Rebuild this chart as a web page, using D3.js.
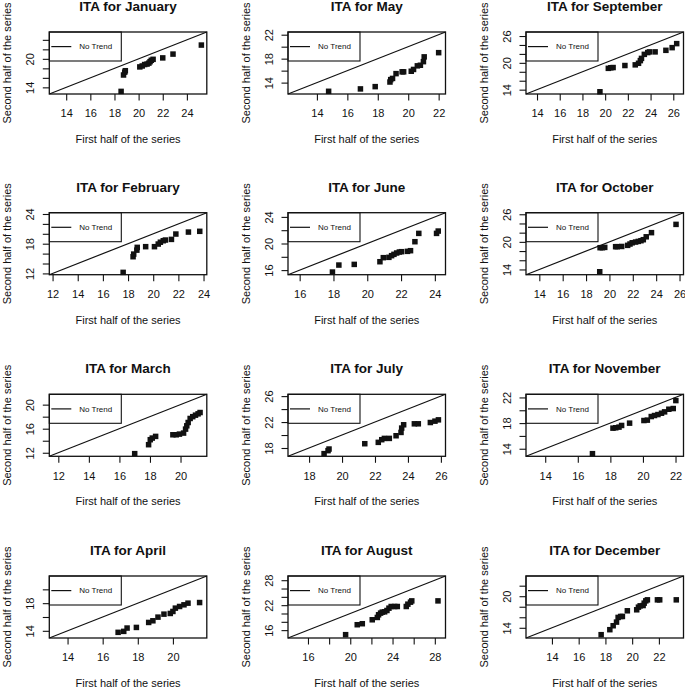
<!DOCTYPE html>
<html>
<head>
<meta charset="utf-8">
<script src="https://cdn.jsdelivr.net/npm/d3@7"></script>
<style>
  body { margin: 0; background: #fff; }
  text { font-family: "Liberation Sans", Arial, sans-serif; fill: #111; }
</style>
</head>
<body>
<svg id="chart" width="685" height="688"></svg>
<script>
// sorted first half (x) and second half (y) of each monthly series
const janFirst = [18.55, 18.75, 18.85, 18.9, 20.1, 20.3, 20.5, 20.7, 20.85, 20.95, 21.05, 21.2, 22.0, 22.85, 25.2];
const janSecond = [13.15, 16.6, 17.2, 17.5, 18.3, 18.5, 18.8, 18.9, 19.1, 19.4, 19.7, 19.9, 20.2, 21.0, 22.9];
const febFirst = [17.61, 18.4, 18.45, 18.7, 18.73, 19.4, 20.1, 20.4, 20.57, 20.8, 20.97, 21.45, 21.8, 22.8, 23.7];
const febSecond = [12.21, 15.37, 15.9, 16.7, 17.26, 17.4, 17.4, 17.93, 18.3, 18.6, 18.74, 18.87, 19.95, 20.35, 20.5];
const marFirst = [17.0, 17.91, 18.02, 18.15, 18.37, 19.5, 19.72, 19.93, 20.2, 20.33, 20.41, 20.5, 20.63, 20.8, 20.98, 21.15, 21.28];
const marSecond = [11.85, 13.34, 14.17, 14.44, 14.72, 14.99, 14.99, 15.1, 15.27, 15.93, 16.48, 17.03, 17.7, 18.0, 18.25, 18.47, 18.69];
const aprFirst = [16.88, 17.2, 17.39, 17.92, 18.62, 18.86, 19.15, 19.49, 19.85, 20.0, 20.14, 20.38, 20.63, 20.86, 21.52];
const aprSecond = [13.78, 13.92, 14.4, 14.49, 15.21, 15.45, 15.98, 16.41, 16.51, 16.8, 17.28, 17.52, 17.76, 18.0, 18.09];
const mayFirst = [14.77, 16.86, 17.83, 18.8, 18.85, 18.97, 19.2, 19.6, 19.7, 20.2, 20.35, 20.6, 20.8, 21.0, 21.05, 22.0];
const maySecond = [12.55, 12.95, 13.33, 14.1, 14.5, 14.7, 15.5, 15.8, 15.8, 15.9, 16.2, 16.8, 16.9, 17.5, 18.3, 19.0];
const junFirst = [17.94, 18.32, 19.23, 20.75, 20.95, 21.28, 21.44, 21.58, 21.74, 21.9, 22.03, 22.38, 22.56, 22.82, 23.05, 24.1, 24.2];
const junSecond = [15.71, 16.76, 16.86, 17.26, 17.87, 17.92, 18.17, 18.37, 18.57, 18.72, 18.77, 18.82, 18.92, 20.27, 21.52, 21.52, 21.87];
const julFirst = [18.91, 19.15, 19.21, 21.38, 22.2, 22.41, 22.57, 22.87, 23.28, 23.58, 23.62, 23.74, 24.39, 24.63, 25.36, 25.64, 25.85];
const julSecond = [17.13, 17.59, 17.84, 18.66, 18.87, 19.28, 19.48, 19.48, 19.89, 20.4, 21.07, 21.58, 21.73, 21.73, 21.93, 22.14, 22.34];
const augFirst = [19.56, 20.66, 21.14, 22.08, 22.56, 22.68, 22.87, 23.03, 23.25, 23.47, 23.66, 23.87, 24.2, 24.45, 25.3, 25.45, 25.7, 25.82, 28.3];
const augSecond = [14.91, 17.3, 17.54, 18.49, 19.05, 19.69, 20.09, 20.33, 20.4, 20.72, 21.28, 21.68, 21.68, 21.68, 21.68, 22.24, 22.72, 23.03, 23.03];
const sepFirst = [19.54, 20.28, 20.5, 20.7, 21.74, 22.65, 22.94, 23.1, 23.2, 23.45, 23.75, 23.9, 24.4, 25.35, 25.9, 26.3];
const sepSecond = [13.53, 18.77, 18.9, 18.95, 19.4, 19.55, 19.9, 20.5, 21.0, 21.9, 22.3, 22.45, 22.45, 22.8, 23.4, 24.3];
const octFirst = [19.17, 19.2, 19.4, 19.6, 20.53, 20.67, 21.05, 21.56, 21.76, 21.95, 22.24, 22.47, 22.7, 22.9, 23.15, 23.6, 25.7];
const octSecond = [13.5, 18.73, 18.73, 18.8, 18.95, 18.95, 19.0, 19.24, 19.53, 19.8, 19.96, 20.1, 20.25, 20.47, 21.1, 22.0, 23.8];
const novFirst = [16.9, 18.16, 18.33, 18.53, 18.69, 19.18, 20.06, 20.27, 20.51, 20.71, 20.92, 21.14, 21.33, 21.59, 21.86, 22.02];
const novSecond = [13.23, 17.21, 17.27, 17.37, 17.63, 17.99, 18.4, 18.46, 19.02, 19.18, 19.33, 19.54, 19.75, 20.16, 20.27, 21.51];
const decFirst = [17.68, 18.33, 18.58, 18.83, 18.95, 19.14, 19.27, 19.64, 20.34, 20.47, 20.6, 20.82, 20.9, 21.02, 21.14, 21.89, 22.06, 23.3];
const decSecond = [12.69, 13.64, 14.39, 15.08, 15.97, 16.15, 16.15, 17.23, 17.42, 17.92, 18.17, 18.23, 18.68, 19.12, 19.31, 19.31, 19.31, 19.31];

// panels in grid order (row by row), with shared x/y axis limits
const panelMonths = ["January", "May", "September", "February", "June", "October",
                     "March", "July", "November", "April", "August", "December"];
const panelFirst = [janFirst, mayFirst, sepFirst, febFirst, junFirst, octFirst,
                    marFirst, julFirst, novFirst, aprFirst, augFirst, decFirst];
const panelSecond = [janSecond, maySecond, sepSecond, febSecond, junSecond, octSecond,
                     marSecond, julSecond, novSecond, aprSecond, augSecond, decSecond];
const panelLimits = [[12.6, 25.65], [12.1, 22.45], [13.03, 26.9], [11.74, 24.26], [15.31, 24.63], [12.86, 26.34],
                     [11.41, 21.72], [16.72, 26.28], [12.82, 22.49], [12.96, 21.93], [14.11, 29.01], [12.06, 23.84]];
// tick labels that are printed (others are unlabeled ticks)
const xTickLabels = [[14, 16, 18, 20, 22, 24], [14, 16, 18, 20, 22], [14, 16, 18, 20, 22, 24, 26],
                     [12, 14, 16, 18, 20, 22, 24], [16, 18, 20, 22, 24], [14, 16, 18, 20, 22, 24, 26],
                     [12, 14, 16, 18, 20], [18, 20, 22, 24, 26], [14, 16, 18, 20, 22],
                     [14, 16, 18, 20], [16, 20, 24, 28], [14, 16, 18, 20, 22]];
const yTickLabels = [[14, 20], [14, 18, 22], [14, 20, 26],
                     [12, 18, 24], [16, 20, 24], [14, 20, 26],
                     [12, 16, 20], [18, 22, 26], [14, 18, 22],
                     [14, 18], [16, 22, 28], [14, 20]];

const colLeft = [49.3, 288, 526];
const rowTop = [32, 212.7, 394.3, 576];
const boxW = 157.5, boxH = 62;
const ink = "#111";

const svg = d3.select("#chart");

panelMonths.forEach((month, i) => {
  const lim = panelLimits[i];
  const g = svg.append("g")
    .attr("transform", `translate(${colLeft[i % 3]},${rowTop[Math.floor(i / 3)]})`);

  const x = d3.scaleLinear().domain(lim).range([0, boxW]);
  const y = d3.scaleLinear().domain(lim).range([boxH, 0]);
  const ticks = d3.range(Math.ceil(lim[0] / 2) * 2, lim[1], 2);

  // x axis
  const xa = g.append("g")
    .attr("transform", `translate(0,${boxH})`)
    .call(d3.axisBottom(x).tickValues(ticks).tickSize(6.5).tickPadding(9)
      .tickFormat(d => xTickLabels[i].includes(d) ? d : ""));
  xa.select(".domain").remove();
  xa.selectAll("line").attr("stroke", ink).attr("stroke-width", 1.1);
  xa.selectAll("text").style("font-size", "11px").attr("fill", ink);

  // y axis, labels rotated like R's default
  const ya = g.append("g")
    .call(d3.axisLeft(y).tickValues(ticks).tickSize(6.5)
      .tickFormat(d => yTickLabels[i].includes(d) ? d : ""));
  ya.select(".domain").remove();
  ya.selectAll("line").attr("stroke", ink).attr("stroke-width", 1.1);
  ya.selectAll("text")
    .attr("x", null).attr("dy", null)
    .attr("transform", "translate(-15,0) rotate(-90)")
    .attr("text-anchor", "middle")
    .style("font-size", "11px").attr("fill", ink);

  // no trend line (1:1)
  g.append("line")
    .attr("x1", x(lim[0])).attr("y1", y(lim[0]))
    .attr("x2", x(lim[1])).attr("y2", y(lim[1]))
    .attr("stroke", ink).attr("stroke-width", 1.2);

  // points
  const pts = panelFirst[i].map((v, k) => [v, panelSecond[i][k]]);
  const s = 5.5;
  g.selectAll("rect.pt")
    .data(pts)
    .enter()
    .append("rect")
    .attr("class", "pt")
    .attr("x", d => x(d[0]) - s / 2)
    .attr("y", d => y(d[1]) - s / 2)
    .attr("width", s).attr("height", s)
    .attr("fill", ink);

  // legend
  const lg = g.append("g");
  lg.append("rect")
    .attr("width", 72).attr("height", 29)
    .attr("fill", "#fff").attr("stroke", ink).attr("stroke-width", 1.1);
  lg.append("line")
    .attr("x1", 2).attr("x2", 22).attr("y1", 14.6).attr("y2", 14.6)
    .attr("stroke", ink).attr("stroke-width", 1.2);
  lg.append("text")
    .attr("x", 30).attr("y", 14.6).attr("dy", "0.35em")
    .style("font-size", "8px")
    .text("No Trend");

  // plot box
  g.append("rect")
    .attr("width", boxW).attr("height", boxH)
    .attr("fill", "none").attr("stroke", ink).attr("stroke-width", 1.3);

  // titles
  g.append("text")
    .attr("x", boxW / 2).attr("y", -21)
    .attr("text-anchor", "middle")
    .style("font-size", "13.5px").style("font-weight", "bold")
    .text(`ITA for ${month}`);

  g.append("text")
    .attr("x", boxW / 2).attr("y", boxH + 49)
    .attr("text-anchor", "middle")
    .style("font-size", "11px")
    .text("First half of the series");

  // y title; nudged right a little so the first column is not clipped
  g.append("text")
    .attr("transform", `translate(-38,${boxH / 2}) rotate(-90)`)
    .attr("text-anchor", "middle")
    .style("font-size", "11px")
    .text("Second half of the series");
});
</script>
</body>
</html>
